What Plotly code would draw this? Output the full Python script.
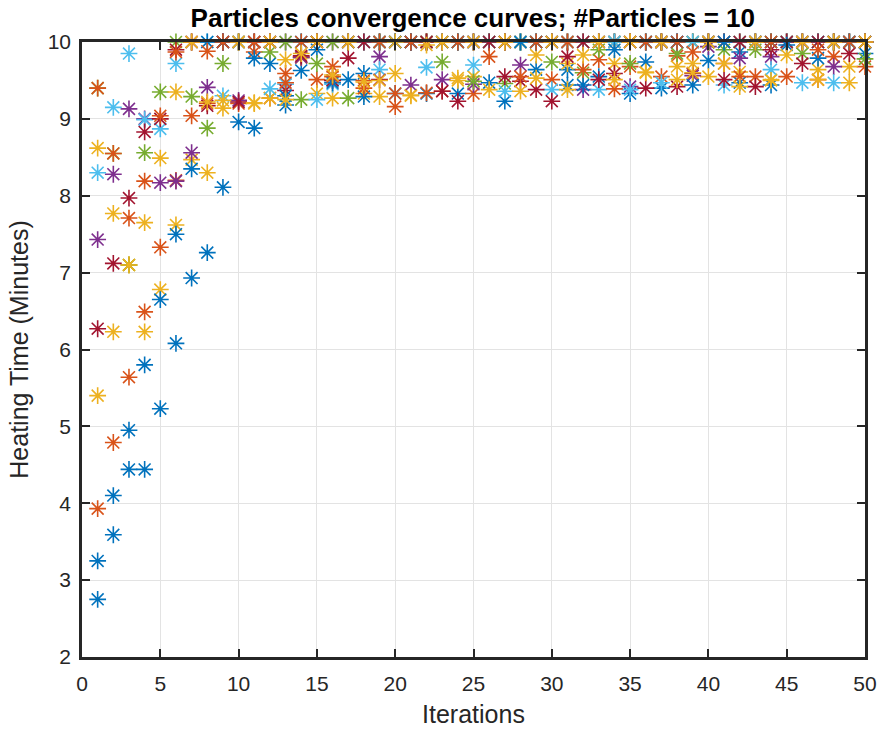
import plotly.graph_objects as go

# Iteration index shared by every particle
iterations = list(range(1, 51))

# Heating time (minutes) of each particle at every iteration
p1_blue = [2.75, 3.59, 4.44, 4.44, 5.23, 6.08, 6.93, 7.26, 8.11, 8.96,
           8.88, 9.72, 9.18, 9.63, 9.90, 9.50, 9.51, 9.59, 10.0, 9.33,
           10.0, 10.0, 10.0, 9.33, 10.0, 10.0, 9.23, 10.0, 9.64, 10.0,
           9.64, 10.0, 9.55, 10.0, 9.33, 9.74, 9.40, 10.0, 10.0, 9.76,
           10.0, 9.87, 10.0, 9.44, 10.0, 10.0, 10.0, 10.0, 10.0, 9.85]
p2_orange = [3.93, 4.79, 5.64, 6.49, 7.33, 8.20, 9.04, 9.20, 10.0, 9.20,
             9.87, 9.27, 9.59, 9.80, 9.51, 9.68, 10.0, 9.50, 10.0, 9.33,
             10.0, 10.0, 9.36, 10.0, 9.33, 10.0, 10.0, 10.0, 10.0, 9.51,
             10.0, 10.0, 9.77, 10.0, 9.68, 10.0, 9.55, 9.82, 10.0, 10.0,
             10.0, 10.0, 9.55, 10.0, 10.0, 10.0, 9.51, 9.81, 10.0, 9.68]
p3_yellow = [5.40, 6.23, 7.10, 6.23, 6.78, 7.62, 8.47, 8.30, 9.14, 10.0,
             9.20, 9.27, 9.77, 9.80, 9.33, 9.27, 10.0, 9.33, 9.29, 9.59,
             9.31, 10.0, 10.0, 9.53, 9.55, 10.0, 10.0, 10.0, 9.83, 10.0,
             9.72, 10.0, 10.0, 9.72, 10.0, 9.61, 10.0, 9.68, 9.72, 9.55,
             10.0, 9.61, 10.0, 9.51, 10.0, 10.0, 9.64, 10.0, 9.68, 10.0]
p4_purple = [7.43, 8.28, 9.13, 9.00, 8.17, 8.19, 8.56, 9.41, 10.0, 9.24,
             10.0, 10.0, 10.0, 9.80, 10.0, 10.0, 10.0, 10.0, 9.81, 10.0,
             9.44, 10.0, 9.51, 10.0, 9.45, 10.0, 10.0, 9.70, 10.0, 10.0,
             10.0, 9.38, 10.0, 10.0, 9.42, 10.0, 10.0, 10.0, 9.56, 9.94,
             10.0, 9.79, 10.0, 9.81, 10.0, 10.0, 10.0, 9.68, 10.0, 10.0]
p5_green = [9.40, 8.55, 7.10, 8.56, 9.35, 10.0, 9.29, 8.88, 9.72, 10.0,
            10.0, 9.87, 10.0, 9.25, 9.72, 10.0, 9.27, 10.0, 10.0, 10.0,
            10.0, 10.0, 9.74, 10.0, 9.49, 10.0, 9.46, 10.0, 10.0, 9.74,
            10.0, 9.60, 9.90, 10.0, 9.72, 10.0, 10.0, 9.85, 10.0, 10.0,
            9.90, 10.0, 9.90, 10.0, 10.0, 9.85, 10.0, 10.0, 10.0, 9.78]
p6_lightblue = [8.30, 9.15, 9.85, 8.99, 8.87, 9.72, 10.0, 10.0, 9.30, 10.0,
                10.0, 9.39, 9.45, 10.0, 9.25, 9.45, 10.0, 10.0, 9.64, 10.0,
                10.0, 9.67, 10.0, 10.0, 9.70, 10.0, 9.36, 10.0, 10.0, 9.38,
                10.0, 10.0, 9.38, 10.0, 9.38, 10.0, 9.47, 10.0, 10.0, 10.0,
                9.44, 10.0, 10.0, 9.64, 10.0, 9.47, 10.0, 9.47, 10.0, 10.0]
p7_darkred = [6.27, 7.12, 7.97, 8.83, 9.00, 9.90, 10.0, 9.17, 10.0, 9.22,
              10.0, 10.0, 9.37, 9.82, 10.0, 9.50, 9.79, 10.0, 9.51, 10.0,
              10.0, 10.0, 9.36, 9.23, 10.0, 10.0, 9.55, 9.49, 9.38, 9.23,
              9.81, 10.0, 9.51, 9.59, 10.0, 9.40, 10.0, 9.42, 9.59, 10.0,
              9.51, 10.0, 9.42, 9.90, 10.0, 9.72, 10.0, 10.0, 9.85, 10.0]
p8_blue = [3.25, 4.10, 4.95, 5.80, 6.65, 7.50, 8.35, 10.0, 10.0, 10.0,
           9.79, 10.0, 9.30, 10.0, 10.0, 9.47, 10.0, 9.29, 10.0, 10.0,
           10.0, 9.33, 10.0, 10.0, 10.0, 9.47, 10.0, 10.0, 10.0, 10.0,
           9.44, 9.44, 10.0, 9.90, 10.0, 10.0, 10.0, 10.0, 9.44, 10.0,
           10.0, 9.47, 10.0, 10.0, 9.96, 10.0, 9.79, 10.0, 10.0, 10.0]
p9_orange = [9.40, 8.55, 7.71, 8.19, 9.04, 9.87, 10.0, 9.88, 10.0, 10.0,
             10.0, 10.0, 9.47, 10.0, 10.0, 9.55, 10.0, 9.40, 10.0, 9.16,
             10.0, 9.34, 10.0, 10.0, 10.0, 9.81, 10.0, 9.55, 10.0, 10.0,
             10.0, 9.64, 10.0, 9.39, 10.0, 10.0, 10.0, 10.0, 9.87, 10.0,
             9.72, 9.55, 10.0, 10.0, 9.55, 10.0, 9.90, 10.0, 10.0, 10.0]
p10_yellow = [8.62, 7.77, 7.10, 7.65, 8.49, 9.35, 10.0, 9.22, 9.24, 10.0,
              9.21, 10.0, 9.25, 9.85, 10.0, 9.57, 10.0, 9.48, 9.50, 10.0,
              9.30, 9.96, 10.0, 9.50, 10.0, 9.38, 10.0, 9.36, 9.53, 10.0,
              9.38, 9.83, 10.0, 9.51, 10.0, 9.60, 10.0, 9.51, 9.60, 10.0,
              9.72, 9.42, 10.0, 9.50, 9.83, 10.0, 9.51, 10.0, 9.47, 10.0]

particles = [p1_blue, p2_orange, p3_yellow, p4_purple, p5_green,
             p6_lightblue, p7_darkred, p8_blue, p9_orange, p10_yellow]

# Default colour order, cycled over the particles
color_order = ["#0072BD", "#D95319", "#EDB120", "#7E2F8E",
               "#77AC30", "#4DBEEE", "#A2142F"]

x_ticks = list(range(0, 51, 5))
y_ticks = list(range(2, 11, 1))

fig = go.Figure()
for k, values in enumerate(particles):
    c = color_order[k % len(color_order)]
    fig.add_trace(go.Scatter(
        x=iterations, y=values, mode="markers",
        marker=dict(symbol="asterisk-open", size=14, color=c,
                    line=dict(color=c, width=1.6)),
        cliponaxis=False, showlegend=False,
    ))

axis_color = "#262626"
font_family = "Liberation Sans, Arial, sans-serif"

common_axis = dict(
    showline=True, linecolor=axis_color, linewidth=2.5, mirror="ticks",
    ticks="inside", ticklen=8, tickwidth=2, tickcolor=axis_color,
    showgrid=True, gridcolor="#E3E3E3", gridwidth=1, zeroline=False,
    automargin=False,
    tickfont=dict(family=font_family, size=21, color=axis_color),
)

fig.update_layout(
    width=878, height=734,
    margin=dict(l=82, r=13, t=42, b=77),
    paper_bgcolor="white", plot_bgcolor="white",
    title=dict(
        text="<b>Particles convergence curves; #Particles = 10</b>",
        x=0.5385, xanchor="center", y=0.975, yanchor="middle",
        font=dict(family=font_family, size=26, color="black"),
    ),
    xaxis=dict(range=[0, 50], tickvals=x_ticks, ticklabelstandoff=6,
               title=dict(text="Iterations", standoff=12,
                          font=dict(family=font_family, size=25, color=axis_color)),
               **common_axis),
    yaxis=dict(range=[2, 10], tickvals=y_ticks, ticklabelstandoff=4,
               title=dict(text="Heating Time (Minutes)", standoff=12,
                          font=dict(family=font_family, size=25, color=axis_color)),
               **common_axis),
)

fig.write_html("out.html")
